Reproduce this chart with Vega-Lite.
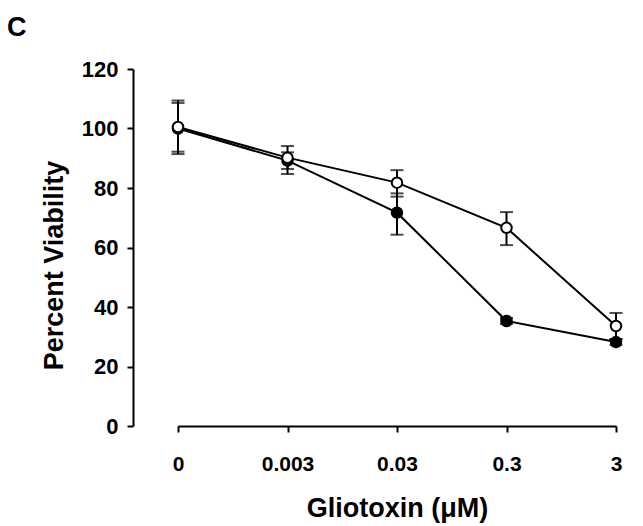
{
  "$schema": "https://vega.github.io/schema/vega-lite/v6.json",
  "width": 438,
  "height": 357,
  "autosize": {"type": "none"},
  "padding": {"left": 178, "top": 69, "right": 27, "bottom": 100},
  "background": "white",
  "config": {"view": {"stroke": null}, "font": "Liberation Sans"},
  "title": {"text": "C", "anchor": "start", "frame": "group", "dx": -171, "offset": 16, "fontSize": 27, "font": "Liberation Sans", "fontWeight": "bold", "color": "black"},
  "data": {"values": [
    {"conc": "0", "series": "filled", "mean": 100, "lo": 91.4, "hi": 108.6},
    {"conc": "0.003", "series": "filled", "mean": 89.2, "lo": 84.7, "hi": 92},
    {"conc": "0.03", "series": "filled", "mean": 71.7, "lo": 64.3, "hi": 78.2},
    {"conc": "0.3", "series": "filled", "mean": 35.3, "lo": 34.3, "hi": 36.3},
    {"conc": "3", "series": "filled", "mean": 28.2, "lo": 27.2, "hi": 29.2},
    {"conc": "0", "series": "open", "mean": 100.5, "lo": 92.2, "hi": 109.4},
    {"conc": "0.003", "series": "open", "mean": 90.2, "lo": 86.4, "hi": 94.1},
    {"conc": "0.03", "series": "open", "mean": 81.8, "lo": 77.1, "hi": 86},
    {"conc": "0.3", "series": "open", "mean": 66.6, "lo": 60.8, "hi": 71.9},
    {"conc": "3", "series": "open", "mean": 33.6, "lo": 29.2, "hi": 38}
  ]},
  "encoding": {
    "x": {
      "field": "conc", "type": "ordinal",
      "sort": ["0", "0.003", "0.03", "0.3", "3"],
      "scale": {"type": "point", "padding": 0},
      "axis": {
        "title": "Gliotoxin (μM)", "labelAngle": 0, "grid": false,
        "domainWidth": 2, "domainColor": "black", "tickColor": "black", "tickWidth": 2, "tickSize": 6,
        "labelPadding": 21, "labelFontSize": 21, "labelFont": "Liberation Sans", "labelFontWeight": "bold", "labelColor": "black",
        "titleFontSize": 27, "titleFont": "Liberation Sans", "titleFontWeight": "bold", "titleColor": "black", "titlePadding": 21
      }
    }
  },
  "layer": [
    {
      "mark": {"type": "line", "color": "black", "strokeWidth": 2},
      "encoding": {
        "y": {
          "field": "mean", "type": "quantitative",
          "scale": {"domain": [0, 120], "nice": false, "zero": true},
          "axis": {
            "title": "Percent Viability", "values": [0, 20, 40, 60, 80, 100, 120], "grid": false, "offset": 45,
            "domainWidth": 2, "domainColor": "black", "tickColor": "black", "tickWidth": 2, "tickSize": 6,
            "labelPadding": 9, "labelFontSize": 22, "labelFont": "Liberation Sans", "labelFontWeight": "bold", "labelColor": "black",
            "titleFontSize": 27, "titleFont": "Liberation Sans", "titleFontWeight": "bold", "titleColor": "black", "titlePadding": 13,
            "titleY": 196
          }
        },
        "detail": {"field": "series"}
      }
    },
    {
      "mark": {"type": "rule", "color": "black", "strokeWidth": 2},
      "encoding": {"y": {"field": "lo", "type": "quantitative"}, "y2": {"field": "hi"}}
    },
    {
      "mark": {"type": "tick", "color": "black", "size": 13, "thickness": 2, "orient": "horizontal"},
      "encoding": {"y": {"field": "lo", "type": "quantitative"}}
    },
    {
      "mark": {"type": "tick", "color": "black", "size": 13, "thickness": 2, "orient": "horizontal"},
      "encoding": {"y": {"field": "hi", "type": "quantitative"}}
    },
    {
      "mark": {"type": "point", "shape": "circle", "filled": true, "size": 110, "stroke": "black", "strokeWidth": 2, "opacity": 1},
      "encoding": {
        "y": {"field": "mean", "type": "quantitative"},
        "fill": {"field": "series", "type": "nominal", "scale": {"domain": ["filled", "open"], "range": ["black", "white"]}, "legend": null}
      }
    }
  ]
}
